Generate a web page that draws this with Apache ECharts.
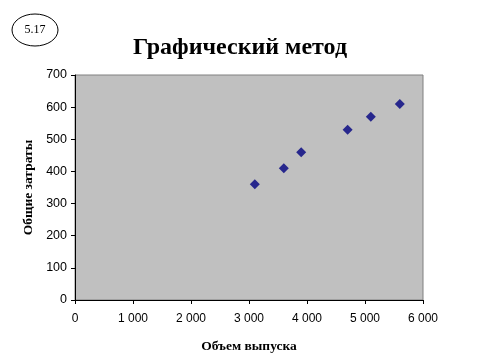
<!DOCTYPE html>
<html><head><meta charset="utf-8">
<script src="https://cdn.jsdelivr.net/npm/echarts@6/dist/echarts.min.js"></script>
<style>html,body{margin:0;padding:0;background:#fff}#c{width:480px;height:360px}</style>
</head><body><div id="c"></div>
<script>
var volume = [3100, 3600, 3900, 4700, 5100, 5600];
var costs = [360, 410, 460, 530, 570, 610];
var xTicks = [0, 1000, 2000, 3000, 4000, 5000, 6000];
var yTicks = [0, 100, 200, 300, 400, 500, 600, 700];

var chart = echarts.init(document.getElementById('c'), null, {renderer: 'canvas'});
var pts = volume.map(function (v, i) { return [v, costs[i]]; });
function fmtX(v) { return v >= 1000 ? String(Math.floor(v / 1000)) + ' ' + String(v % 1000).padStart(3, '0') : String(v); }
chart.setOption({
  animation: false,
  backgroundColor: '#fff',
  title: {
    text: 'Графический метод', left: 'center', top: 31,
    textStyle: {fontFamily: 'Liberation Serif', fontWeight: 'bold', fontSize: 24, color: '#000'}
  },
  graphic: [
    {type: 'ellipse', shape: {cx: 35, cy: 30, rx: 23, ry: 16}, style: {fill: '#fff', stroke: '#000', lineWidth: 1}},
    {type: 'text', x: 35, y: 30, style: {text: '5.17', fontFamily: 'Liberation Serif', fontSize: 12, fill: '#000', align: 'center', verticalAlign: 'middle'}}
  ],
  grid: {left: 75, right: 57, top: 75, bottom: 60, show: true, backgroundColor: '#C0C0C0', borderColor: '#808080', borderWidth: 1},
  xAxis: {
    type: 'value', min: xTicks[0], max: xTicks[xTicks.length - 1], interval: 1000,
    name: 'Объем выпуска', nameLocation: 'middle', nameGap: 40,
    nameTextStyle: {fontFamily: 'Liberation Serif', fontWeight: 'bold', fontSize: 13.5, color: '#000'},
    axisLine: {lineStyle: {color: '#000'}}, axisTick: {show: true, length: 4, lineStyle: {color: '#000'}},
    splitLine: {show: false},
    axisLabel: {fontFamily: 'Liberation Sans', fontSize: 12, color: '#000', margin: 13, formatter: fmtX}
  },
  yAxis: {
    type: 'value', min: yTicks[0], max: yTicks[yTicks.length - 1], interval: 100,
    name: 'Общие затраты', nameLocation: 'middle', nameGap: 34,
    nameTextStyle: {fontFamily: 'Liberation Serif', fontWeight: 'bold', fontSize: 13.5, color: '#000'},
    axisLine: {show: true, lineStyle: {color: '#000'}}, axisTick: {show: true, length: 4, lineStyle: {color: '#000'}},
    splitLine: {show: false},
    axisLabel: {fontFamily: 'Liberation Sans', fontSize: 12.5, color: '#000', margin: 8}
  },
  series: [{
    type: 'scatter', data: pts, symbol: 'diamond', symbolSize: 10,
    itemStyle: {color: '#000080'}
  }]
});
</script></body></html>
